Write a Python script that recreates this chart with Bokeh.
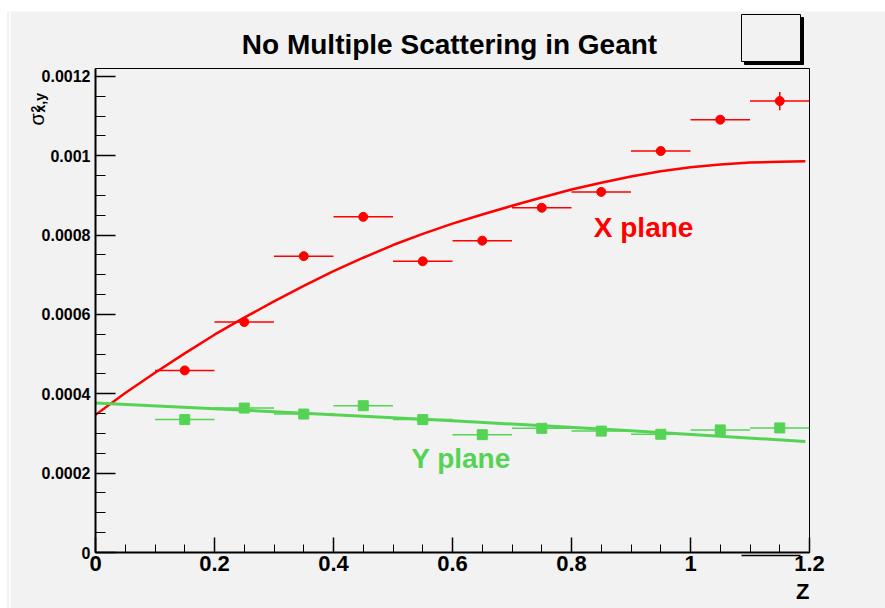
from bokeh.plotting import figure
from bokeh.models import Range1d, FixedTicker, Label, ColumnDataSource, GridBox
from bokeh.core.properties import value
from bokeh.embed import file_html
from bokeh.resources import INLINE
import numpy as np

# ---- data ----
z_bins = [0.15, 0.25, 0.35, 0.45, 0.55, 0.65, 0.75, 0.85, 0.95, 1.05, 1.15]
z_half_width = [0.05, 0.05, 0.05, 0.05, 0.05, 0.05, 0.05, 0.05, 0.05, 0.05, 0.05]

sigma2_x = [0.000459, 0.000581, 0.000747, 0.000846, 0.000734, 0.000786,
            0.000869, 0.000909, 0.001012, 0.001091, 0.001138]
sigma2_x_err = [0.000008, 0.000008, 0.000008, 0.000008, 0.000008, 0.000008,
                0.000008, 0.000009, 0.000009, 0.000010, 0.000023]

sigma2_y = [0.000335, 0.000364, 0.000349, 0.000370, 0.000335, 0.000297,
            0.000313, 0.000306, 0.000298, 0.000309, 0.000314]
sigma2_y_err = [0.000004, 0.000004, 0.000004, 0.000004, 0.000004, 0.000004,
                0.000004, 0.000004, 0.000004, 0.000004, 0.000005]

fit_x_z = [0.0, 0.05, 0.1, 0.15, 0.2, 0.25, 0.3, 0.35, 0.4, 0.45, 0.5, 0.55,
           0.6, 0.65, 0.7, 0.75, 0.8, 0.85, 0.9, 0.95, 1.0, 1.05, 1.1, 1.15, 1.193]
fit_x_val = [0.000347, 0.000402, 0.000453, 0.000502, 0.000549, 0.000592,
             0.000633, 0.000672, 0.000709, 0.000743, 0.000775, 0.000803,
             0.000829, 0.000852, 0.000874, 0.000895, 0.000915, 0.000932,
             0.000948, 0.000961, 0.000971, 0.000978, 0.000983, 0.000985, 0.000986]

fit_y_z = [0.0, 0.3, 0.6, 0.9, 1.193]
fit_y_val = [0.000377, 0.000355, 0.000332, 0.000307, 0.000280]

x_ticks = [0.0, 0.2, 0.4, 0.6, 0.8, 1.0, 1.2]
x_tick_labels = ["0", "0.2", "0.4", "0.6", "0.8", "1", "1.2"]
y_ticks = [0.0, 0.0002, 0.0004, 0.0006, 0.0008, 0.001, 0.0012]
y_tick_labels = ["0", "0.0002", "0.0004", "0.0006", "0.0008", "0.001", "0.0012"]

title_text = "No Multiple Scattering in Geant"
x_title = "Z"
y_title_main = "σ"
y_title_sup = "2"
y_title_sub = "x,y"
label_x_plane = "X plane"
label_y_plane = "Y plane"

RED = "#ff0000"
GREEN = "#55d355"
BG = "#f2f2f2"
FONT = "Liberation Sans"
W, H = 885, 608

# ---------------- main plot ----------------
p = figure(width=W, height=H,
           x_range=Range1d(0, 1.2), y_range=Range1d(0, 0.00122),
           output_backend="svg", toolbar_location=None,
           background_fill_color=BG, border_fill_color=BG,
           min_border_left=95, min_border_right=76,
           min_border_top=68, min_border_bottom=56)
p.frame_align = False
p.grid.visible = False
p.outline_line_color = "black"
p.outline_line_width = 1

xa = p.xaxis[0]
xa.ticker = FixedTicker(ticks=x_ticks, minor_ticks=list(np.round(np.arange(0, 1.2001, 0.05), 4)))
xa.major_label_overrides = {t: s for t, s in zip(x_ticks, x_tick_labels)}
ya = p.yaxis[0]
ya.ticker = FixedTicker(ticks=y_ticks, minor_ticks=list(np.round(np.arange(0, 0.00122, 0.00005), 7)))
ya.major_label_overrides = {t: s for t, s in zip(y_ticks, y_tick_labels)}
for ax in (xa, ya):
    ax.axis_line_width = 2
    ax.axis_line_color = "black"
    ax.major_tick_out = 0
    ax.minor_tick_out = 0
    ax.major_tick_line_width = 1.5
    ax.minor_tick_line_width = 1
    ax.major_tick_line_color = "black"
    ax.minor_tick_line_color = "black"
    ax.major_label_text_font = FONT
    ax.major_label_text_font_style = "bold"
    ax.major_label_text_color = "black"
xa.major_tick_in = 15
xa.minor_tick_in = 8
xa.major_label_text_font_size = "22px"
xa.major_label_standoff = 3
ya.major_tick_in = 20
ya.minor_tick_in = 10
ya.major_label_text_font_size = "16px"
ya.major_label_standoff = 5

zb = np.array(z_bins)
hw = np.array(z_half_width)
sx = np.array(sigma2_x)
ex = np.array(sigma2_x_err)
sy = np.array(sigma2_y)
ey = np.array(sigma2_y_err)

src_x = ColumnDataSource(dict(z=zb, z0=zb - hw, z1=zb + hw, v=sx, v0=sx - ex, v1=sx + ex))
src_y = ColumnDataSource(dict(z=zb, z0=zb - hw, z1=zb + hw, v=sy, v0=sy - ey, v1=sy + ey))

p.segment(x0="z0", y0="v", x1="z1", y1="v", source=src_x, line_color=RED, line_width=1.5)
p.segment(x0="z", y0="v0", x1="z", y1="v1", source=src_x, line_color=RED, line_width=1.5)
p.scatter(x="z", y="v", source=src_x, marker="circle", size=9, fill_color=RED, line_color=RED)

p.segment(x0="z0", y0="v", x1="z1", y1="v", source=src_y, line_color=GREEN, line_width=1.5)
p.segment(x0="z", y0="v0", x1="z", y1="v1", source=src_y, line_color=GREEN, line_width=1.5)
p.scatter(x="z", y="v", source=src_y, marker="square", size=10, fill_color=GREEN, line_color=GREEN)

p.line(fit_x_z, fit_x_val, line_color=RED, line_width=2.5)
p.line(fit_y_z, fit_y_val, line_color=GREEN, line_width=3)

p.add_layout(Label(x=0.8375, y=0.00082, text=label_x_plane, text_align="left",
                   text_baseline="alphabetic", text_font=FONT, text_font_style="bold",
                   text_font_size="28px", text_color=RED))
p.add_layout(Label(x=0.5306, y=0.000237, text=label_y_plane, text_align="left",
                   text_baseline="alphabetic", text_font=FONT, text_font_style="bold",
                   text_font_size="28px", text_color=GREEN))

# ---------------- overlay (canvas-pixel coordinates) for texts outside the frame ----------------
o = figure(width=W, height=H, x_range=Range1d(0, W), y_range=Range1d(H, 0),
           output_backend="svg", toolbar_location=None,
           x_axis_location=None, y_axis_location=None, min_border=0,
           background_fill_alpha=0, border_fill_alpha=0)
o.frame_align = False
o.grid.visible = False
o.outline_line_color = None

# white page margins (top, left) and faint edge line
o.quad(left=[0, 0], right=[W, 10], top=[0, 0], bottom=[11, H], fill_color="white", line_color=None)
o.segment(x0=[7.5], y0=[11], x1=[7.5], y1=[H], line_color="#e4e4e4", line_width=1)

# title
o.text(x=[449], y=[43.5], text=[title_text], text_align="center", text_baseline="alphabetic",
       text_font=value(FONT), text_font_style="bold", text_font_size="28px", text_color="black")
# x axis title
o.text(x=[809], y=[590.5], text=[x_title], text_align="right", text_baseline="alphabetic",
       text_font=value(FONT), text_font_style="bold", text_font_size="22px", text_color="black")
# y axis title sigma^2_{x,y}
o.text(x=[36.3], y=[125], text=[y_title_main], angle=[np.pi / 2], text_align="left",
       text_baseline="alphabetic", text_font=value(FONT), text_font_size="20px", text_color="black")
o.text(x=[34.5], y=[112], text=[y_title_sup], angle=[np.pi / 2], text_align="left",
       text_baseline="alphabetic", text_font=value(FONT), text_font_style="bold",
       text_font_size="12px", text_color="black")
o.text(x=[39.3], y=[112], text=[y_title_sub], angle=[np.pi / 2], text_align="left",
       text_baseline="alphabetic", text_font=value(FONT), text_font_style="bold",
       text_font_size="14px", text_color="black")

# empty box with shadow at top right
o.quad(left=[744], right=[803], top=[17], bottom=[64], fill_color="black", line_color="black")
o.quad(left=[741], right=[800], top=[14], bottom=[61], fill_color=BG, line_color="black", line_width=1)
# short line below x axis
o.segment(x0=[741], y0=[555], x1=[800], y1=[555], line_color="black", line_width=1.5)

layout = GridBox(children=[(p, 0, 0), (o, 0, 0)])

open("out.html", "w").write(file_html(layout, INLINE))
